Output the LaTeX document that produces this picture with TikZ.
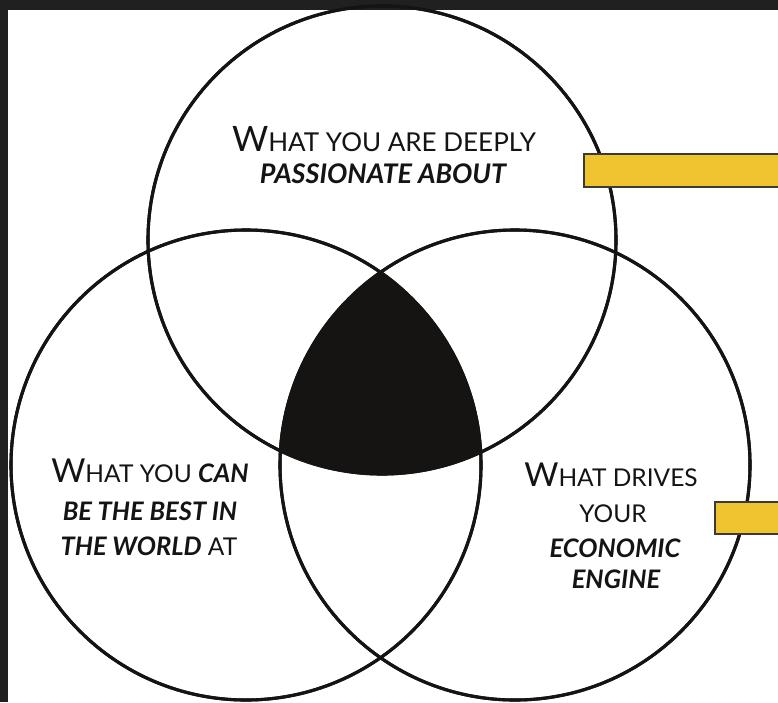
\documentclass[tikz,border=0pt]{standalone}
\usepackage{fontspec}
\setmainfont{Lato}
\definecolor{ink}{HTML}{161412}
\definecolor{frame}{HTML}{202020}
\definecolor{gold}{HTML}{F0C330}
\definecolor{barline}{HTML}{3A3A3A}
\newcommand{\fsz}[2]{{\fontsize{#1}{#1}\selectfont #2}}
\newcommand{\bi}[2]{{\fontsize{#1}{#1}\selectfont\bfseries\itshape #2}}
\tikzset{
  venn/.style={circle, draw=ink, line width=3.1pt, inner sep=0pt, minimum size=#1},
  bar/.style={fill=gold, draw=barline, line width=1.1pt},
  lbl/.style={anchor=base, inner sep=0pt, text=ink}
}
\begin{document}
\begin{tikzpicture}[x=1pt,y=-1pt]
\useasboundingbox (0,0) rectangle (778,702);
\fill[frame] (0,0) rectangle (778,702);
\fill[white] (8,10) rectangle (778,702);
% circles
\node[venn=468pt] (pass) at (382,240) {};
\node[venn=470pt] (best) at (246,465) {};
\node[venn=470pt] (econ) at (515,465) {};
% centre region
\begin{scope}
  \clip (pass.center) circle[radius=234pt];
  \clip (best.center) circle[radius=235pt];
  \fill[ink] (econ.center) circle[radius=235pt];
\end{scope}
\node[venn=468pt] at (pass.center) {};
\node[venn=470pt] at (best.center) {};
\node[venn=470pt] at (econ.center) {};
% yellow bars
\filldraw[bar] (584,154) rectangle (790,187);
\filldraw[bar] (715,502) rectangle (790,534);
% texts
\node[lbl] (p1) at (384,151) {\fsz{35}{W}\fsz{26}{HAT YOU ARE DEEPLY}};
\node[lbl] (p2) at (383,183) {\bi{27}{PASSIONATE ABOUT}};
\node[lbl] (b1) at (150,482) {\fsz{33}{W}\fsz{24.5}{HAT YOU }\bi{25.5}{CAN}};
\node[lbl] (b2) at (150,520) {\bi{25.5}{BE THE BEST IN}};
\node[lbl] (b3) at (149,555) {\bi{25.5}{THE WORLD}\fsz{24.5}{ AT}};
\node[lbl] (e1) at (611,486) {\fsz{33}{W}\fsz{24.5}{HAT DRIVES}};
\node[lbl] (e2) at (613,522) {\fsz{24.5}{YOUR}};
\node[lbl] (e3) at (615,557) {\bi{25.5}{ECONOMIC}};
\node[lbl] (e4) at (616,588) {\bi{25.5}{ENGINE}};
\end{tikzpicture}
\end{document}
